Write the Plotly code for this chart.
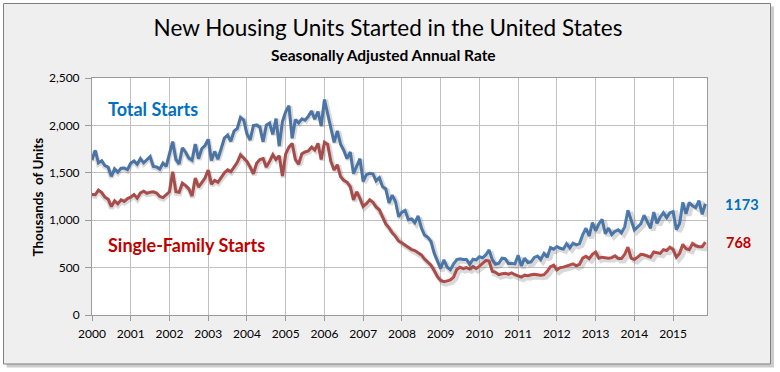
import plotly.graph_objects as go

years = list(range(2000, 2016))
year_labels = [str(y) for y in years]

total_starts = [
    # 2000
    1636, 1737, 1604, 1626, 1575, 1559, 1463, 1541, 1507, 1549, 1551, 1532,
    # 2001
    1600, 1625, 1590, 1649, 1605, 1636, 1670, 1567, 1562, 1540, 1602, 1568,
    # 2002
    1698, 1829, 1642, 1592, 1764, 1717, 1655, 1633, 1804, 1648, 1753, 1788,
    # 2003
    1853, 1629, 1726, 1643, 1751, 1867, 1897, 1833, 1939, 1967, 2083, 2057,
    # 2004
    1911, 1846, 1998, 2003, 1981, 1828, 2002, 2024, 1905, 2072, 1782, 2042,
    # 2005
    2144, 2207, 1864, 2061, 2025, 2068, 2054, 2095, 2151, 2065, 2147, 1994,
    # 2006
    2273, 2119, 1969, 1821, 1942, 1802, 1737, 1650, 1720, 1491, 1570, 1649,
    # 2007
    1409, 1480, 1495, 1490, 1415, 1448, 1354, 1330, 1183, 1264, 1197, 1037,
    # 2008
    1084, 1103, 1005, 1013, 973, 1046, 923, 844, 820, 777, 652, 560,
    # 2009
    490, 582, 505, 478, 540, 585, 594, 586, 585, 534, 588, 581,
    # 2010
    614, 604, 636, 687, 583, 536, 546, 599, 594, 543, 545, 539,
    # 2011
    630, 517, 600, 554, 561, 608, 623, 585, 650, 610, 711, 694,
    # 2012
    723, 704, 695, 753, 708, 757, 740, 754, 847, 915, 833, 976,
    # 2013
    888, 962, 1010, 856, 917, 848, 883, 898, 866, 930, 1105, 1003,
    # 2014
    897, 928, 963, 1053, 984, 915, 1085, 968, 1032, 1079, 1027, 1080,
    # 2015
    1092, 900, 964, 1189, 1066, 1187, 1152, 1132, 1207, 1062, 1173,
]

single_family_starts = [
    # 2000
    1271, 1268, 1318, 1292, 1243, 1222, 1143, 1204, 1172, 1215, 1198, 1228,
    # 2001
    1242, 1270, 1232, 1288, 1306, 1284, 1296, 1300, 1286, 1250, 1238, 1265,
    # 2002
    1300, 1510, 1300, 1295, 1390, 1365, 1330, 1255, 1445, 1350, 1400, 1445,
    # 2003
    1530, 1380, 1420, 1400, 1450, 1500, 1530, 1510, 1560, 1610, 1690, 1650,
    # 2004
    1620, 1560, 1490, 1600, 1640, 1650, 1560, 1620, 1690, 1640, 1680, 1465,
    # 2005
    1700, 1770, 1810, 1640, 1590, 1700, 1720, 1730, 1770, 1740, 1810, 1640,
    # 2006
    1820, 1800, 1620, 1530, 1585, 1460, 1420, 1400, 1355, 1215, 1300, 1230,
    # 2007
    1145, 1175, 1215, 1190, 1140, 1110, 1040, 960, 920, 866, 830, 780,
    # 2008
    760, 735, 715, 690, 680, 660, 634, 590, 560, 525, 470, 405,
    # 2009
    365, 352, 360, 370, 400, 480, 505, 490, 500, 485, 510, 490,
    # 2010
    515, 545, 575, 570, 460, 450, 425, 435, 440, 430, 445, 425,
    # 2011
    410, 400, 420, 415, 425, 430, 425, 420, 425, 460, 510, 525,
    # 2012
    475, 500, 505, 515, 525, 540, 520, 535, 600, 620, 595, 640,
    # 2013
    665, 600, 610, 605, 600, 605, 625, 595, 595, 640, 716, 600,
    # 2014
    585, 610, 640, 635, 620, 610, 665, 660, 650, 690, 680, 715,
    # 2015
    690, 610, 650, 745, 700, 690, 755, 730, 720, 720, 768,
]

months = list(range(len(total_starts)))
tick_pos = [12 * i for i in range(len(years))]
x_max = months[-1] + 0.5

W, H = 780, 372
L, R, T, B = 92, 73, 78, 57
PW, PH = W - L - R, H - T - B


def px(x):
    return (x - L) / PW


def py(y):
    return (H - B - y) / PH


BLUE = "#4A7EBB"
RED = "#BE4B48"
FONT = "Lato"

dx, dy = 3 / PW, 3 / PH

fig = go.Figure()
# soft drop shadows: same data on overlay axes offset a few pixels right/down
for ser in (total_starts, single_family_starts):
    fig.add_trace(go.Scatter(x=months, y=ser, mode="lines", xaxis="x2", yaxis="y2",
                             line=dict(color="rgba(80,80,80,0.22)", width=5),
                             hoverinfo="skip", showlegend=False))
fig.add_trace(go.Scatter(x=months, y=total_starts, mode="lines", name="Total Starts",
                         line=dict(color=BLUE, width=3), showlegend=False))
fig.add_trace(go.Scatter(x=months, y=single_family_starts, mode="lines",
                         name="Single-Family Starts",
                         line=dict(color=RED, width=3), showlegend=False))

grid = "#c0c0c0"
axis_line = "#9a9a9a"
fig.update_layout(
    width=W, height=H,
    margin=dict(l=L, r=R, t=T, b=B),
    paper_bgcolor="white", plot_bgcolor="white",
    font=dict(family=FONT, size=12, color="#000"),
    title=dict(text="New Housing Units Started in the United States",
               x=388 / W, y=1 - 28.5 / H, xanchor="center", yanchor="middle",
               font=dict(family=FONT, size=22.5, color="#000")),
    xaxis=dict(range=[0, x_max], tickvals=tick_pos, ticktext=year_labels,
               showgrid=True, gridcolor=grid, gridwidth=1,
               showline=True, linecolor=axis_line, mirror=True,
               ticks="outside", ticklen=5, tickcolor=axis_line,
               ticklabelstandoff=3,
               tickfont=dict(family=FONT, size=12), zeroline=False),
    yaxis=dict(range=[0, 2500], dtick=500, tickformat=",",
               showgrid=True, gridcolor=grid, gridwidth=1,
               showline=True, linecolor=axis_line, mirror=True,
               ticks="outside", ticklen=6, tickcolor=axis_line,
               ticklabelstandoff=3,
               tickfont=dict(family=FONT, size=12), zeroline=False),
    xaxis2=dict(overlaying="x", domain=[dx, 1], range=[0, x_max * (1 - dx)],
                visible=False),
    yaxis2=dict(overlaying="y", domain=[0, 1 - dy], range=[2500 * dy, 2500],
                visible=False),
)

shapes = [
    dict(type="rect", xref="paper", yref="paper", layer="below",
         x0=px(6.5), x1=px(774), y0=py(6.5), y1=py(367.5),
         fillcolor="rgba(0,0,0,0.2)", line=dict(width=0)),
    dict(type="rect", xref="paper", yref="paper", layer="below",
         x0=px(3.5), x1=px(770.5), y0=py(3.5), y1=py(364),
         fillcolor="#efefef", line=dict(color="#7f7f7f", width=1)),
    dict(type="rect", xref="paper", yref="paper", layer="below",
         x0=0, x1=1, y0=0, y1=1, fillcolor="white", line=dict(width=0)),
]
fig.update_layout(shapes=shapes)

ann = [
    dict(text="<b>Seasonally Adjusted Annual Rate</b>", x=px(383), y=py(55),
         font=dict(size=15.5)),
    dict(text="<b>Thousands\u00a0 of Units</b>", x=px(37), y=py(197.5), textangle=-90,
         font=dict(size=13.5)),
    dict(text="<b>Total Starts</b>", x=px(106), y=py(109), xanchor="left",
         font=dict(size=18, color="#0070C0")),
    dict(text="<b>Single-Family Starts</b>", x=px(106), y=py(245), xanchor="left",
         font=dict(size=18, color="#C00000")),
    dict(text="<b>%d</b>" % total_starts[-1], x=px(723), y=py(204), xanchor="left",
         font=dict(size=14.5, color="#0070C0")),
    dict(text="<b>%d</b>" % single_family_starts[-1], x=px(724), y=py(243),
         xanchor="left", font=dict(size=14.5, color="#C00000")),
]
for a in ann:
    a.setdefault("xanchor", "center")
    a.update(xref="paper", yref="paper", yanchor="middle", showarrow=False)
    a["font"].setdefault("family", FONT)
    a["font"].setdefault("color", "#000")
fig.update_layout(annotations=ann)

fig.write_html("out.html", config={"displayModeBar": False},
               post_script="document.body.style.margin='0px';")
